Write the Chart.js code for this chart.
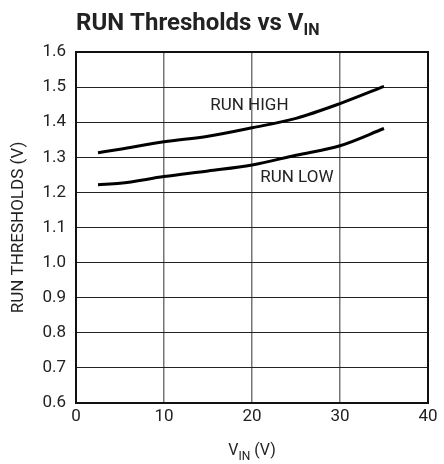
<!DOCTYPE html>
<html>
<head>
<meta charset="utf-8">
<script src="https://cdn.jsdelivr.net/npm/chart.js@4.4.1/dist/chart.umd.min.js"></script>
<style>
  html, body { margin: 0; padding: 0; background: #fff; }
  #wrap { width: 444px; height: 464px; }
</style>
</head>
<body>
<div id="wrap"><canvas id="chart"></canvas></div>
<script>
const vin = [2.5, 5, 10, 15, 20, 25, 30, 35]
const runHigh = [1.313, 1.323, 1.344, 1.360, 1.384, 1.411, 1.453, 1.502]
const runLow = [1.222, 1.226, 1.245, 1.261, 1.278, 1.306, 1.333, 1.382]
const xTicks = [0, 10, 20, 30, 40]
const yTicks = [0.6, 0.7, 0.8, 0.9, 1.0, 1.1, 1.2, 1.3, 1.4, 1.5, 1.6]
const curveLabels = [
  { text: 'RUN HIGH', x: 19.7, y: 1.446 },
  { text: 'RUN LOW', x: 25.1, y: 1.241 },
]

const FONT = '"Liberation Sans Narrow", "Roboto", sans-serif'

// title, x-axis title (with subscripts), curve labels and the frame
const extras = {
  id: 'extras',
  afterDraw(chart) {
    const ctx = chart.ctx
    const a = chart.chartArea
    const xs = chart.scales.x, ys = chart.scales.y
    ctx.save()
    ctx.fillStyle = '#222'
    ctx.textBaseline = 'alphabetic'
    ctx.textAlign = 'left'

    ctx.font = 'bold 24px ' + FONT
    let t = 'RUN Thresholds vs V'
    ctx.fillText(t, 76, 30)
    let w = ctx.measureText(t).width
    ctx.font = 'bold 16px ' + FONT
    ctx.fillText('IN', 76 + w, 35)

    const p1 = 'V', p2 = 'IN', p3 = ' (V)'
    ctx.font = '16px ' + FONT
    const w1 = ctx.measureText(p1).width, w3 = ctx.measureText(p3).width
    ctx.font = '12px ' + FONT
    const w2 = ctx.measureText(p2).width
    let x0 = (a.left + a.right) / 2 - (w1 + w2 + w3) / 2
    ctx.font = '16px ' + FONT
    ctx.fillText(p1, x0, 455)
    ctx.font = '12px ' + FONT
    ctx.fillText(p2, x0 + w1, 460)
    ctx.font = '16px ' + FONT
    ctx.fillText(p3, x0 + w1 + w2, 455)

    ctx.font = '17px ' + FONT
    ctx.textAlign = 'center'
    ctx.textBaseline = 'middle'
    curveLabels.forEach(l => {
      ctx.fillText(l.text, xs.getPixelForValue(l.x), ys.getPixelForValue(l.y))
    })

    ctx.strokeStyle = '#111'
    ctx.lineWidth = 2
    ctx.strokeRect(a.left, a.top, a.right - a.left, a.bottom - a.top)
    ctx.restore()
  }
}

const toPoints = arr => arr.map((v, i) => ({ x: vin[i], y: v }))

new Chart(document.getElementById('chart'), {
  type: 'line',
  data: {
    datasets: [
      { data: toPoints(runHigh) },
      { data: toPoints(runLow) },
    ]
  },
  options: {
    responsive: true,
    maintainAspectRatio: false,
    animation: false,
    layout: { padding: { top: 52, right: 16, left: 0, bottom: 0 } },
    elements: {
      line: { borderColor: '#000', borderWidth: 3, tension: 0.4, cubicInterpolationMode: 'monotone' },
      point: { radius: 0 }
    },
    plugins: { legend: { display: false }, tooltip: { enabled: false } },
    scales: {
      x: {
        type: 'linear', min: 0, max: 40,
        afterBuildTicks: s => { s.ticks = xTicks.map(v => ({ value: v })) },
        afterFit: s => { s.height = 61 },
        grid: { color: '#777', lineWidth: 1.5, drawTicks: false },
        border: { display: false },
        ticks: { color: '#222', font: { family: FONT, size: 17 }, padding: 4, maxRotation: 0 }
      },
      y: {
        type: 'linear', min: 0.6, max: 1.6,
        afterBuildTicks: s => { s.ticks = yTicks.map(v => ({ value: v })) },
        afterFit: s => { s.width = 76 },
        grid: { color: '#222', lineWidth: 1, drawTicks: false },
        border: { display: false },
        ticks: { color: '#222', font: { family: FONT, size: 17 }, padding: 10, callback: v => v.toFixed(1) },
        title: { display: true, text: 'RUN THRESHOLDS (V)', color: '#222', font: { family: FONT, size: 17 }, padding: { top: 9, bottom: 0 } }
      }
    }
  },
  plugins: [extras]
})
</script>
</body>
</html>
